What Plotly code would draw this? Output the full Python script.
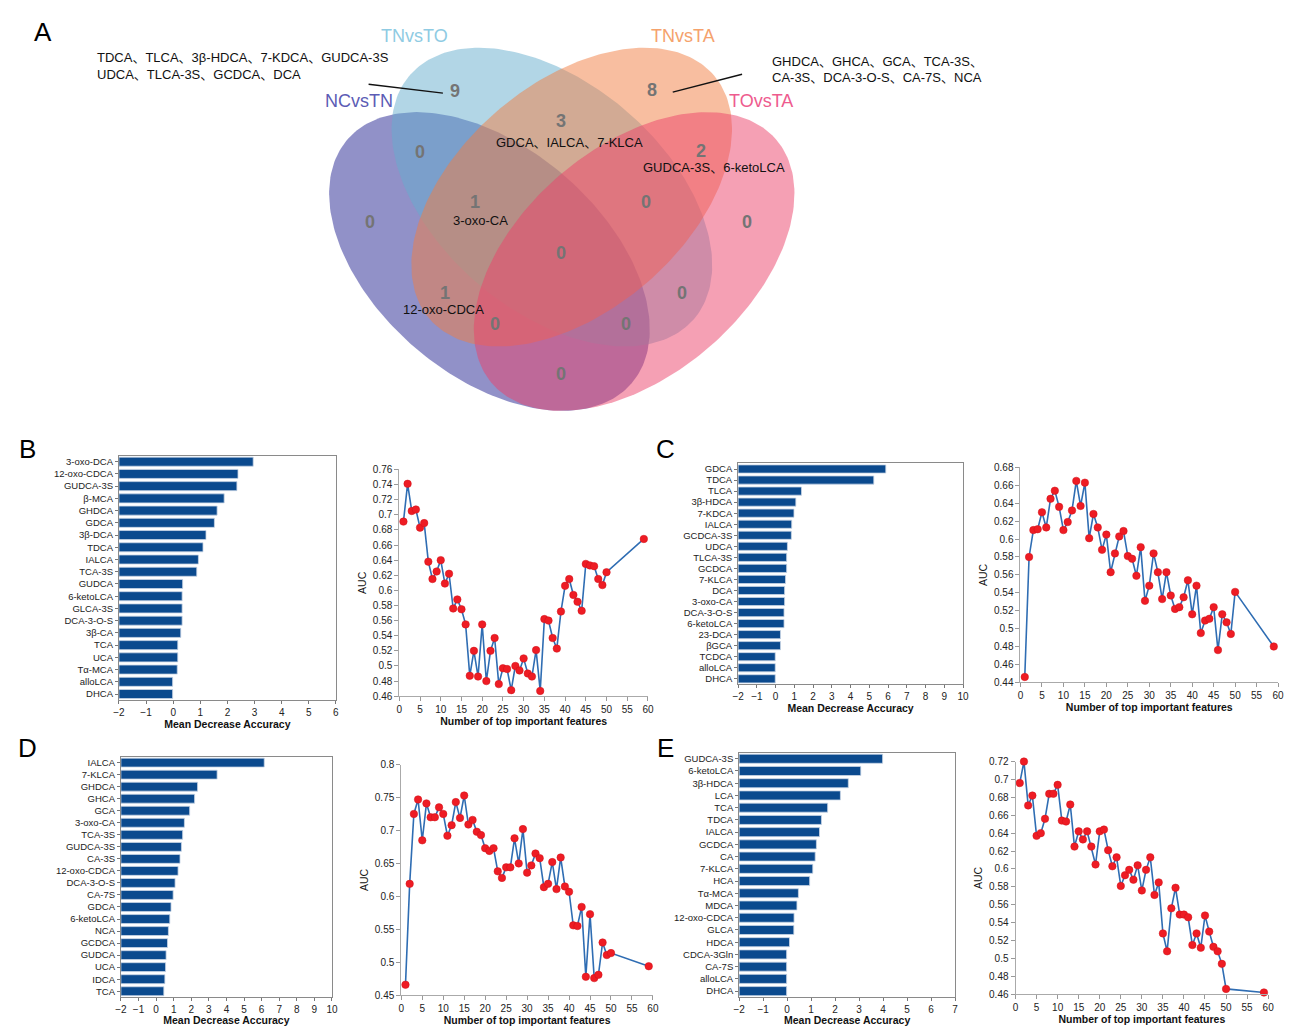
import numpy as np
import plotly.graph_objects as go

W, H = 1291, 1026
FONT = "Arial, 'Liberation Sans', 'Noto Sans CJK SC', sans-serif"

# ---------------- Venn data ----------------
venn_set_names = ["NCvsTN", "TNvsTO", "TNvsTA", "TOvsTA"]
venn_regions = ["TNvsTO", "TNvsTA", "TNvsTO&TNvsTA", "TNvsTA&TOvsTA", "NCvsTN&TNvsTO",
                "NCvsTN&TNvsTO&TNvsTA", "TNvsTO&TNvsTA&TOvsTA", "NCvsTN", "TOvsTA", "ALL",
                "NCvsTN&TNvsTA", "TNvsTO&TOvsTA", "NCvsTN&TNvsTA&TOvsTA", "NCvsTN&TNvsTO&TOvsTA",
                "NCvsTN&TOvsTA"]
venn_counts = [9, 8, 3, 2, 0, 1, 0, 0, 0, 0, 1, 0, 0, 0, 0]
venn_members = {
    "TNvsTO&TNvsTA": "GDCA、IALCA、7-KLCA",
    "TNvsTA&TOvsTA": "GUDCA-3S、6-ketoLCA",
    "NCvsTN&TNvsTO&TNvsTA": "3-oxo-CA",
    "NCvsTN&TNvsTA": "12-oxo-CDCA",
}
callout_TNvsTO = ["TDCA、TLCA、3β-HDCA、7-KDCA、GUDCA-3S", "UDCA、TLCA-3S、GCDCA、DCA"]
callout_TNvsTA = ["GHDCA、GHCA、GCA、TCA-3S、", "CA-3S、DCA-3-O-S、CA-7S、NCA"]

# ---------------- Bar data (Mean Decrease Accuracy) ----------------
B_features = ["3-oxo-DCA", "12-oxo-CDCA", "GUDCA-3S", "β-MCA", "GHDCA", "GDCA", "3β-DCA", "TDCA",
              "IALCA", "TCA-3S", "GUDCA", "6-ketoLCA", "GLCA-3S", "DCA-3-O-S", "3β-CA", "TCA", "UCA",
              "Tα-MCA", "alloLCA", "DHCA"]
B_mda = [2.95, 2.39, 2.35, 1.88, 1.62, 1.52, 1.21, 1.10, 0.93, 0.87, 0.35, 0.33, 0.33, 0.33, 0.28,
         0.17, 0.17, 0.15, -0.02, -0.02]

C_features = ["GDCA", "TDCA", "TLCA", "3β-HDCA", "7-KDCA", "IALCA", "GCDCA-3S", "UDCA", "TLCA-3S",
              "GCDCA", "7-KLCA", "DCA", "3-oxo-CA", "DCA-3-O-S", "6-ketoLCA", "23-DCA", "βGCA", "TCDCA",
              "alloLCA", "DHCA"]
C_mda = [5.88, 5.24, 1.38, 1.08, 0.98, 0.86, 0.84, 0.63, 0.59, 0.59, 0.53, 0.48, 0.48, 0.45, 0.45,
         0.26, 0.26, -0.02, -0.02, -0.02]

D_features = ["IALCA", "7-KLCA", "GHDCA", "GHCA", "GCA", "3-oxo-CA", "TCA-3S", "GUDCA-3S", "CA-3S",
              "12-oxo-CDCA", "DCA-3-O-S", "CA-7S", "GDCA", "6-ketoLCA", "NCA", "GCDCA", "GUDCA", "UCA",
              "IDCA", "TCA"]
D_mda = [6.15, 3.47, 2.36, 2.19, 1.91, 1.61, 1.51, 1.44, 1.36, 1.25, 1.08, 0.97, 0.85, 0.78, 0.70,
         0.65, 0.57, 0.54, 0.50, 0.44]

E_features = ["GUDCA-3S", "6-ketoLCA", "3β-HDCA", "LCA", "TCA", "TDCA", "IALCA", "GCDCA", "CA", "7-KLCA",
              "HCA", "Tα-MCA", "MDCA", "12-oxo-CDCA", "GLCA", "HDCA", "CDCA-3Gln", "CA-7S", "alloLCA",
              "DHCA"]
E_mda = [3.98, 3.07, 2.55, 2.22, 1.69, 1.43, 1.35, 1.22, 1.17, 1.07, 0.94, 0.47, 0.41, 0.29, 0.28,
         0.10, -0.02, -0.02, -0.02, -0.02]

# ---------------- AUC curves ----------------
n_features = [1, 2, 3, 4, 5, 6, 7, 8, 9, 10, 11, 12, 13, 14, 15, 16, 17, 18, 19, 20, 21, 22, 23, 24, 25,
              26, 27, 28, 29, 30, 31, 32, 33, 34, 35, 36, 37, 38, 39, 40, 41, 42, 43, 44, 45, 46, 47, 48,
              49, 50, 59]
B_auc = [0.691, 0.741, 0.705, 0.707, 0.683, 0.689, 0.638, 0.615, 0.625, 0.640, 0.609, 0.622, 0.576,
         0.588, 0.575, 0.555, 0.487, 0.520, 0.486, 0.555, 0.480, 0.520, 0.537, 0.476, 0.497, 0.496,
         0.468, 0.500, 0.494, 0.510, 0.490, 0.486, 0.521, 0.467, 0.562, 0.560, 0.537, 0.523, 0.572,
         0.606, 0.615, 0.594, 0.585, 0.573, 0.635, 0.633, 0.632, 0.615, 0.607, 0.624, 0.668]
C_auc = [0.446, 0.580, 0.610, 0.611, 0.630, 0.613, 0.645, 0.654, 0.636, 0.610, 0.619, 0.632, 0.665,
         0.637, 0.663, 0.601, 0.628, 0.613, 0.588, 0.605, 0.563, 0.584, 0.603, 0.609, 0.581, 0.578,
         0.559, 0.591, 0.531, 0.548, 0.584, 0.563, 0.533, 0.563, 0.537, 0.522, 0.524, 0.535, 0.554,
         0.516, 0.548, 0.495, 0.509, 0.511, 0.524, 0.476, 0.516, 0.507, 0.494, 0.541, 0.480]
D_auc = [0.466, 0.619, 0.725, 0.747, 0.685, 0.741, 0.720, 0.720, 0.735, 0.725, 0.692, 0.708, 0.743,
         0.719, 0.753, 0.709, 0.716, 0.698, 0.693, 0.673, 0.669, 0.673, 0.638, 0.628, 0.644, 0.644,
         0.688, 0.650, 0.702, 0.636, 0.647, 0.665, 0.658, 0.614, 0.619, 0.652, 0.611, 0.659, 0.615,
         0.607, 0.556, 0.555, 0.584, 0.478, 0.573, 0.476, 0.481, 0.530, 0.511, 0.514, 0.494]
E_auc = [0.696, 0.720, 0.671, 0.682, 0.637, 0.640, 0.656, 0.684, 0.684, 0.694, 0.654, 0.653, 0.672,
         0.625, 0.642, 0.633, 0.642, 0.625, 0.605, 0.642, 0.644, 0.621, 0.603, 0.613, 0.581, 0.593,
         0.599, 0.588, 0.604, 0.576, 0.599, 0.613, 0.571, 0.585, 0.528, 0.508, 0.556, 0.579, 0.549,
         0.549, 0.546, 0.515, 0.528, 0.512, 0.548, 0.530, 0.513, 0.508, 0.494, 0.466, 0.462]

# ---------------- layout helpers ----------------
def dx(p0, p1):
    return [p0 / W, p1 / W]

def dy(p0, p1):
    return [1 - p1 / H, 1 - p0 / H]

fig = go.Figure()

# ---------------- Venn (axis x / y in pixel units) ----------------
VENN_H = 430
theta = np.deg2rad(40.6)
tt = np.linspace(0, 2 * np.pi, 240)
ell_a, ell_b = 189, 115
ellipse_geom = {  # cx, cy, tilt sign, fill
    "NCvsTN": (488, 259, 1, "rgba(35,35,145,0.5)"),
    "TNvsTO": (551, 194, 1, "rgba(101,173,205,0.5)"),
    "TNvsTA": (571, 194, -1, "rgba(241,125,65,0.5)"),
    "TOvsTA": (634, 259, -1, "rgba(235,65,105,0.5)"),
}
for name in venn_set_names:
    cx, cy, sg, col = ellipse_geom[name]
    th = sg * theta
    ex = cx + ell_a * np.cos(tt) * np.cos(th) - ell_b * np.sin(tt) * np.sin(th)
    ey = cy + ell_a * np.cos(tt) * np.sin(th) + ell_b * np.sin(tt) * np.cos(th)
    fig.add_trace(go.Scatter(x=ex, y=ey, mode="lines", fill="toself", fillcolor=col,
                             line=dict(width=0), hoverinfo="skip", showlegend=False,
                             xaxis="x", yaxis="y"))

set_label_pos = {"TNvsTO": (412, 31), "TNvsTA": (683, 31), "NCvsTN": (356, 97), "TOvsTA": (762, 97)}
set_label_col = {"TNvsTO": "#8fcbe3", "TNvsTA": "#f5a26c", "NCvsTN": "#5c5cb5", "TOvsTA": "#ee5b8e"}
annotations = []
for name in venn_set_names:
    x, y = set_label_pos[name]
    annotations.append(dict(x=x, y=y, xref="x", yref="y", text=name, showarrow=False,
                            font=dict(family=FONT, size=18, color=set_label_col[name])))

region_pos = {
    "TNvsTO": (453, 87), "TNvsTA": (652, 86), "TNvsTO&TNvsTA": (560, 117),
    "TNvsTA&TOvsTA": (702, 147), "NCvsTN&TNvsTO": (418, 148), "NCvsTN&TNvsTO&TNvsTA": (473, 199),
    "TNvsTO&TNvsTA&TOvsTA": (646, 199), "NCvsTN": (367, 219), "TOvsTA": (748, 219), "ALL": (560, 250),
    "NCvsTN&TNvsTA": (443, 291), "TNvsTO&TOvsTA": (682, 291), "NCvsTN&TNvsTA&TOvsTA": (494, 322),
    "NCvsTN&TNvsTO&TOvsTA": (626, 322), "NCvsTN&TOvsTA": (560, 373),
}
member_pos = {
    "TNvsTO&TNvsTA": (569, 139), "TNvsTA&TOvsTA": (715, 164),
    "NCvsTN&TNvsTO&TNvsTA": (479, 218), "NCvsTN&TNvsTA": (442, 307),
}
for reg, cnt in zip(venn_regions, venn_counts):
    x, y = region_pos[reg]
    annotations.append(dict(x=x, y=y, xref="x", yref="y", text=f"<b>{cnt}</b>", showarrow=False,
                            font=dict(family=FONT, size=18, color="#747474")))
    if reg in venn_members:
        mx, my = member_pos[reg]
        annotations.append(dict(x=mx, y=my, xref="x", yref="y", text=venn_members[reg],
                                showarrow=False, font=dict(family=FONT, size=13, color="#111111")))

for i, line in enumerate(callout_TNvsTO):
    annotations.append(dict(x=90, y=53 + 17 * i, xref="x", yref="y", text=line, showarrow=False,
                            xanchor="left", font=dict(family=FONT, size=13, color="#111111")))
for i, line in enumerate(callout_TNvsTA):
    annotations.append(dict(x=771, y=57 + 16 * i, xref="x", yref="y", text=line, showarrow=False,
                            xanchor="left", font=dict(family=FONT, size=13, color="#111111")))

shapes = [
    dict(type="line", xref="x", yref="y", x0=366, y0=80, x1=441, y1=89, line=dict(color="#111", width=1.5)),
    dict(type="line", xref="x", yref="y", x0=673, y0=88, x1=743, y1=70, line=dict(color="#111", width=1.5)),
]

# panel letters
for letter, (x, y) in {"A": (37, 27), "B": (22, 448), "C": (666, 448), "D": (22, 750), "E": (666, 750)}.items():
    annotations.append(dict(x=x / W, y=1 - y / H, xref="paper", yref="paper", text=letter,
                            xanchor="center", yanchor="middle", showarrow=False,
                            font=dict(family=FONT, size=26, color="#000")))

layout = dict(
    width=W, height=H, margin=dict(l=0, r=0, t=0, b=0),
    paper_bgcolor="white", plot_bgcolor="rgba(0,0,0,0)", showlegend=False,
    font=dict(family=FONT, color="#222"),
    xaxis=dict(domain=[0, 1], range=[0, W], visible=False, fixedrange=True),
    yaxis=dict(domain=[1 - VENN_H / H, 1], range=[VENN_H, 0], visible=False, fixedrange=True),
)

BAR_COLOR = "#0b4a8e"
TICKF = dict(family=FONT, size=10, color="#222")
BTICKF = dict(family=FONT, size=9.5, color="#222")
TITLEF = dict(family=FONT, size=10.5, color="#111")

panels = [
    # (bar features, bar values, xmax, bar px box, auc, ymin, ymax, dtick, line px box)
    (B_features, B_mda, 6, (114, 333, 455, 702), B_auc, 0.46, 0.76, 0.02, (397, 648, 469, 698)),
    (C_features, C_mda, 10, (739, 966, 463, 686), C_auc, 0.44, 0.68, 0.02, (1024, 1284, 467, 684)),
    (D_features, D_mda, 10, (116, 329, 759, 1002), D_auc, 0.45, 0.80, 0.05, (399, 653, 767, 1000)),
    (E_features, E_mda, 7, (740, 958, 755, 1002), E_auc, 0.46, 0.72, 0.02, (1019, 1274, 764, 999)),
]
BAR_BASE = -2
ax_i = 2
for feats, vals, xmax, bbox, auc, ymin, ymax, ydt, lbox in panels:
    xa, ya = f"x{ax_i}", f"y{ax_i}"
    fig.add_trace(go.Bar(y=feats, x=[v - BAR_BASE for v in vals], base=BAR_BASE, orientation="h",
                         marker=dict(color=BAR_COLOR, line=dict(color="#c9d6e6", width=0.8)),
                         xaxis=xa, yaxis=ya, hoverinfo="skip"))
    layout[f"xaxis{ax_i}"] = dict(domain=dx(bbox[0], bbox[1]), anchor=ya, range=[BAR_BASE, xmax],
                                  tick0=BAR_BASE, dtick=1, ticks="outside", ticklen=3, tickcolor="#777",
                                  showline=True, mirror=True, linecolor="#8a8a8a", linewidth=1,
                                  showgrid=False, zeroline=False, tickfont=TICKF,
                                  title=dict(text="<b>Mean Decrease Accuracy</b>", font=TITLEF, standoff=1))
    layout[f"yaxis{ax_i}"] = dict(domain=dy(bbox[2], bbox[3]), anchor=xa, type="category",
                                  categoryorder="array", categoryarray=feats, autorange="reversed",
                                  tickmode="array", tickvals=feats, ticktext=feats,
                                  ticks="outside", ticklen=3, tickcolor="#777", showline=True, mirror=True,
                                  linecolor="#8a8a8a", linewidth=1, showgrid=False, tickfont=BTICKF)
    ax_i += 1
    xa, ya = f"x{ax_i}", f"y{ax_i}"
    fig.add_trace(go.Scatter(x=n_features, y=auc, mode="lines+markers",
                             line=dict(color="#2f6db3", width=1.6),
                             marker=dict(color="#ee1c24", size=7.5, line=dict(color="#d01018", width=0.5)),
                             cliponaxis=False, xaxis=xa, yaxis=ya, hoverinfo="skip"))
    layout[f"xaxis{ax_i}"] = dict(domain=dx(lbox[0], lbox[1]), anchor=ya, range=[0, 60], tick0=0, dtick=5,
                                  ticks="outside", ticklen=4, tickcolor="#999", showline=True,
                                  linecolor="#aaaaaa", linewidth=1, showgrid=False, zeroline=False,
                                  tickfont=TICKF,
                                  title=dict(text="<b>Number of top important features</b>", font=TITLEF,
                                             standoff=1))
    layout[f"yaxis{ax_i}"] = dict(domain=dy(lbox[2], lbox[3]), anchor=xa, range=[ymin, ymax], tick0=ymin,
                                  dtick=ydt, ticks="outside", ticklen=4, tickcolor="#999", showline=True,
                                  linecolor="#aaaaaa", linewidth=1, showgrid=False, zeroline=False,
                                  tickfont=TICKF, title=dict(text="AUC", font=TITLEF, standoff=4))
    ax_i += 1

layout["annotations"] = annotations
layout["shapes"] = shapes
layout["bargap"] = 0.26
fig.update_layout(**layout)
fig.write_html("out.html", config={"displayModeBar": False},
               post_script="document.body.style.margin='0px';document.body.style.padding='0px';")
